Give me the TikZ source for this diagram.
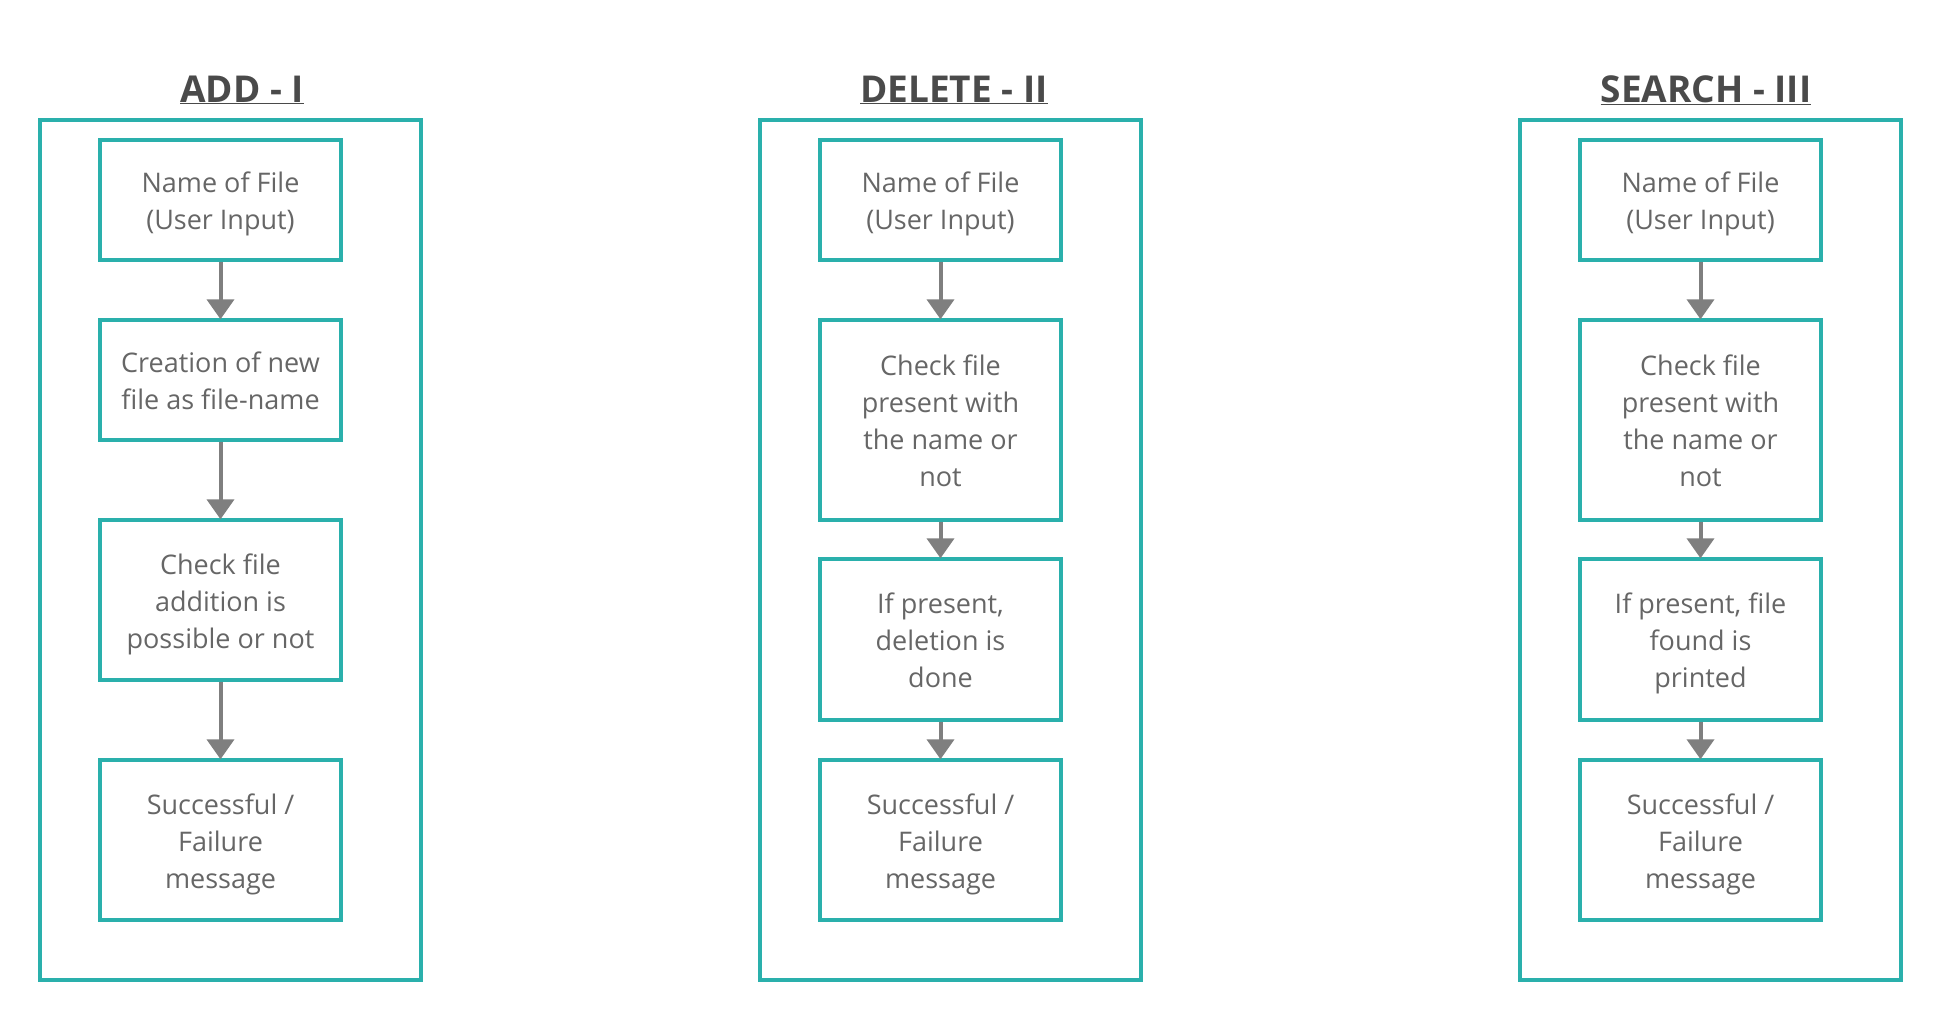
\documentclass[tikz,border=0pt]{standalone}
\usepackage{fontspec}
\setmainfont{Open Sans}
\usetikzlibrary{arrows.meta}
\definecolor{teal1}{HTML}{2AB0AC}
\definecolor{txtgray}{HTML}{666666}
\definecolor{ttlgray}{HTML}{4A4A4A}
\definecolor{arrgray}{HTML}{7F7F7F}
\newcommand\tstrut{\rule{0pt}{34pt}}
\tikzset{
  frame/.style={draw=teal1, line width=3.4pt, inner sep=0pt, minimum width=381pt, minimum height=860pt},
  stepbox/.style={draw=teal1, line width=3.4pt, inner sep=0pt, minimum width=241pt, align=center,
    text=txtgray, font=\fontsize{27}{37}\selectfont},
  ttl/.style={anchor=base, text=ttlgray, font=\fontsize{37}{45}\selectfont\bfseries},
  flow/.style={draw=arrgray, line width=4pt, -{Triangle[width=27pt,length=20pt]}, shorten >=-1pt}
}
\begin{document}
\begin{tikzpicture}[x=1pt,y=-1pt]
\useasboundingbox (0,0) rectangle (1940,1021);
% ADD
\node[ttl] (t1) at (242,102) {\underline{ADD - I}};
\node[frame] (f1) at (230.5,550) {};
\node[stepbox, minimum height=120pt] (a1) at (220.5,200) {\tstrut Name of File\\(User Input)\strut};
\node[stepbox, minimum height=120pt] (a2) at (220.5,380) {\tstrut Creation of new\\file as file-name\strut};
\node[stepbox, minimum height=160pt] (a3) at (220.5,600) {\tstrut Check file\\addition is\\possible or not\strut};
\node[stepbox, minimum height=160pt] (a4) at (220.5,840) {\tstrut Successful /\\Failure\\message\strut};
\draw[flow] (a1) -- (a2);
\draw[flow] (a2) -- (a3);
\draw[flow] (a3) -- (a4);
% DELETE
\node[ttl] (t2) at (954,102) {\underline{DELETE - II}};
\node[frame] (f2) at (950.5,550) {};
\node[stepbox, minimum height=120pt] (d1) at (940.5,200) {\tstrut Name of File\\(User Input)\strut};
\node[stepbox, minimum height=200pt] (d2) at (940.5,420) {\tstrut Check file\\present with\\the name or\\not\strut};
\node[stepbox, minimum height=161pt] (d3) at (940.5,639.5) {\tstrut If present,\\deletion is\\done\strut};
\node[stepbox, minimum height=160pt] (d4) at (940.5,840) {\tstrut Successful /\\Failure\\message\strut};
\draw[flow] (d1) -- (d2);
\draw[flow] (d2) -- (d3);
\draw[flow] (d3) -- (d4);
% SEARCH
\node[ttl] (t3) at (1706,102) {\underline{SEARCH - III}};
\node[frame] (f3) at (1710.5,550) {};
\node[stepbox, minimum height=120pt] (s1) at (1700.5,200) {\tstrut Name of File\\(User Input)\strut};
\node[stepbox, minimum height=200pt] (s2) at (1700.5,420) {\tstrut Check file\\present with\\the name or\\not\strut};
\node[stepbox, minimum height=161pt] (s3) at (1700.5,639.5) {\tstrut If present, file\\found is\\printed\strut};
\node[stepbox, minimum height=160pt] (s4) at (1700.5,840) {\tstrut Successful /\\Failure\\message\strut};
\draw[flow] (s1) -- (s2);
\draw[flow] (s2) -- (s3);
\draw[flow] (s3) -- (s4);
\end{tikzpicture}
\end{document}
